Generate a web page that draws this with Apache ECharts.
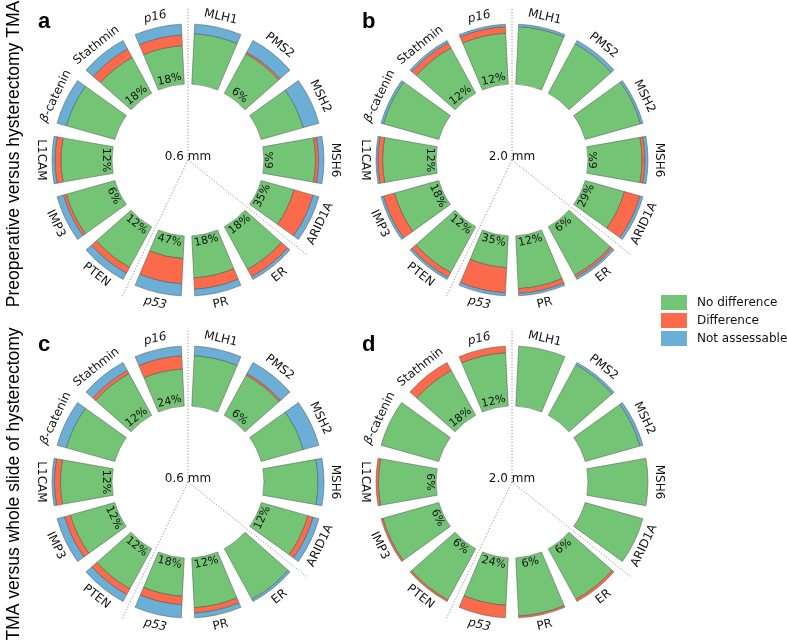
<!DOCTYPE html>
<html><head><meta charset="utf-8">
<script src="https://cdn.jsdelivr.net/npm/echarts@6/dist/echarts.min.js"></script>
<style>html,body{margin:0;padding:0;background:#fff}#c{width:787px;height:642px}</style>
</head><body><div id="c"></div>
<script>
// ---------------- data ----------------
const categories = ['MLH1','PMS2','MSH2','MSH6','ARID1A','ER','PR','p53','PTEN','IMP3','L1CAM','β-catenin','Stathmin','p16'];
const italicCategories = ['p16','p53'];
const seriesNames = ['No difference','Difference','Not assessable'];
const panelLetters = ['a','b','c','d'];
const sizeLabels = ['0.6 mm','2.0 mm','0.6 mm','2.0 mm'];
const rowTitles = ['Preoperative versus hysterectomy TMA','TMA versus whole slide of hysterectomy'];
const dividerCategories = ['MLH1','ER','PTEN'];

// panel a : 0.6 mm, preoperative vs hysterectomy TMA
const aNoDiff  = [84,75,73,86,57,81,70,38,77,84,85,84,68,64];
const aDiff    = [ 0, 3, 0, 5,33,14,19,42,11, 5,10, 0,16,18];
const aNotAss  = [16,22,27, 9,10, 5,11,20,12,11, 5,16,16,18];
const aPct     = ['','6%','','6%','35%','18%','18%','47%','12%','6%','12%','','18%','18%'];
// panel b : 2.0 mm, preoperative vs hysterectomy TMA
const bNoDiff  = [96,94,96,90,68,92,88,53,87,77,89,96,86,85];
const bDiff    = [ 0, 0, 0, 5,27, 4, 8,42, 9,19, 8, 0,10,11];
const bNotAss  = [ 4, 6, 4, 5, 5, 4, 4, 5, 4, 4, 3, 4, 4, 4];
const bPct     = ['','','','6%','29%','6%','12%','35%','12%','18%','12%','','12%','12%'];
// panel c : 0.6 mm, TMA vs whole slide
const cNoDiff  = [84,76,73,90,81,96,83,64,76,77,86,84,79,62];
const cDiff    = [ 0, 3, 0, 0, 9, 0, 9,14,11,10,10, 0, 6,22];
const cNotAss  = [16,21,27,10,10, 4, 8,22,13,13, 4,16,15,16];
const cPct     = ['','6%','','','12%','','12%','18%','12%','12%','12%','','12%','24%'];
// panel d : 2.0 mm, TMA vs whole slide
const dNoDiff  = [100,96,95,100,100,96,97,79,97,97,96,100,85,89];
const dDiff    = [  0, 0, 0,  0,  0, 4, 3,21, 3, 3, 4,  0,15,11];
const dNotAss  = [  0, 4, 5,  0,  0, 0, 0, 0, 0, 0, 0,  0, 0, 0];
const dPct     = ['','','','','','6%','6%','24%','6%','6%','6%','','18%','12%'];

const panels = [
  {vals:[aNoDiff,aDiff,aNotAss], pct:aPct},
  {vals:[bNoDiff,bDiff,bNotAss], pct:bPct},
  {vals:[cNoDiff,cDiff,cNotAss], pct:cPct},
  {vals:[dNoDiff,dDiff,dNotAss], pct:dPct}
];

// ---------------- style / layout ----------------
const colors = ['#74c476','#fb6a4a','#6baed6'];
const centers = [[188,160],[512,160],[188,482],[512,482]];
const R_IN = 76, R_OUT = 136;
const LABEL_R = 118;   // radius value (data units, axis max 100) for category labels
const PCT_R = 11;      // radius value for percent labels
const RAY_LEN = 152;   // pixel length of dotted separators
const FONT = 'DejaVu Sans';

const chart = echarts.init(document.getElementById('c'), null, {renderer:'canvas'});

const polar = centers.map(c => ({center:c, radius:[R_IN, R_OUT]}));
const angleAxis = centers.map((c,k) => ({
  polarIndex:k, type:'category', data:categories, startAngle:90, clockwise:true,
  axisLine:{show:false}, axisTick:{show:false}, axisLabel:{show:false}, splitLine:{show:false}
}));
const radiusAxis = centers.map((c,k) => ({
  polarIndex:k, type:'value', min:0, max:100,
  axisLine:{show:false}, axisTick:{show:false}, axisLabel:{show:false}, splitLine:{show:false}
}));

function angleInfo(p, cs){
  const dx = p[0]-cs.cx, dy = p[1]-cs.cy;
  let th = Math.atan2(dx, -dy)*180/Math.PI;
  if (th < 0) th += 360;
  return th;
}

function labelRender(k){
  return function(params, api){
    const i = params.dataIndex;
    const cs = params.coordSys;
    const pOut = api.coord([LABEL_R, i]);
    const pIn = api.coord([PCT_R, i]);
    const th = angleInfo(pOut, cs);
    const rc = (th > 90.5 && th <= 270.5) ? th-180 : th;
    const rp = (th >= 89.5 && th <= 270.5) ? th-180 : th;
    const cat = categories[i];
    const children = [];
    let txt = cat, rich = undefined;
    if (cat === 'β-catenin') { txt = '{it|β}-catenin'; rich = {it:{fontStyle:'italic', fontSize:12, fontFamily:FONT, fill:'#111'}}; }
    children.push({
      type:'text', x:pOut[0], y:pOut[1], rotation:-rc*Math.PI/180,
      style:{text:txt, rich:rich, fill:'#111', fontSize:12, fontFamily:FONT,
             fontStyle: italicCategories.indexOf(cat) >= 0 ? 'italic' : 'normal',
             align:'center', verticalAlign:'middle'}
    });
    const pct = panels[k].pct[i];
    if (pct) {
      children.push({
        type:'text', x:pIn[0], y:pIn[1], rotation:-rp*Math.PI/180,
        style:{text:pct, fill:'#111', fontSize:11, fontFamily:FONT, align:'center', verticalAlign:'middle'}
      });
    }
    return {type:'group', children:children};
  };
}

function guideRender(k){
  return function(params, api){
    const cs = params.coordSys;
    const n = categories.length;
    const i = categories.indexOf(dividerCategories[params.dataIndex]);
    const a = api.coord([0, i]), b = api.coord([0, (i-1+n)%n]);
    let ax = a[0]-cs.cx, ay = a[1]-cs.cy, bx = b[0]-cs.cx, by = b[1]-cs.cy;
    const la = Math.hypot(ax,ay), lb = Math.hypot(bx,by);
    let ux = ax/la + bx/lb, uy = ay/la + by/lb;
    const lu = Math.hypot(ux,uy); ux/=lu; uy/=lu;
    const children = [{
      type:'line', shape:{x1:cs.cx, y1:cs.cy, x2:cs.cx+ux*RAY_LEN, y2:cs.cy+uy*RAY_LEN},
      style:{stroke:'#8a8a8a', lineWidth:0.9, lineDash:[1.2,1.8]}
    }];
    if (params.dataIndex === 0) {
      children.push({type:'text', x:cs.cx, y:cs.cy-3,
        style:{text:sizeLabels[k], fill:'#111', fontSize:12, fontFamily:FONT, align:'center', verticalAlign:'middle'}});
    }
    return {type:'group', children:children};
  };
}

const series = [];
panels.forEach((p,k) => {
  p.vals.forEach((v,s) => {
    series.push({
      type:'bar', name:seriesNames[s], coordinateSystem:'polar', polarIndex:k,
      stack:'stack'+k, data:v.map(x => x === 0 ? '-' : x), barCategoryGap:'22%',
      itemStyle:{color:colors[s], borderColor:'#505050', borderWidth:0.5},
      emphasis:{disabled:true}, silent:true
    });
  });
  series.push({
    type:'custom', coordinateSystem:'polar', polarIndex:k, silent:true, z:5,
    data: categories.map((c,i) => [100, i]),
    renderItem: labelRender(k)
  });
  series.push({
    type:'custom', coordinateSystem:'polar', polarIndex:k, silent:true, z:4,
    data: dividerCategories.map(c => [0, categories.indexOf(c)]),
    renderItem: guideRender(k)
  });
});

const letterPos = [[38,33],[362,33],[38,356],[362,356]];
const graphic = [];
panelLetters.forEach((l,k) => {
  graphic.push({type:'text', x:letterPos[k][0], y:letterPos[k][1],
    style:{text:l, fill:'#000', font:'bold 22px "Liberation Sans", Arial', verticalAlign:'bottom'}});
});
const rowCenters = [154, 484];
rowTitles.forEach((t,k) => {
  graphic.push({type:'text', x:14, y:rowCenters[k], rotation:Math.PI/2,
    style:{text:t, fill:'#000', font:'17.5px "Liberation Sans", Arial', align:'center', verticalAlign:'middle'}});
});

chart.setOption({
  animation:false,
  textStyle:{fontFamily:FONT},
  polar: polar, angleAxis: angleAxis, radiusAxis: radiusAxis,
  legend:{
    data:seriesNames, orient:'vertical', left:661, top:295, padding:0,
    itemWidth:26, itemHeight:15, itemGap:3, icon:'rect', selectedMode:false,
    itemStyle:{borderWidth:0},
    textStyle:{fontFamily:FONT, fontSize:12, color:'#111', padding:[0,0,0,5]}
  },
  series: series,
  graphic: graphic
});
</script></body></html>
